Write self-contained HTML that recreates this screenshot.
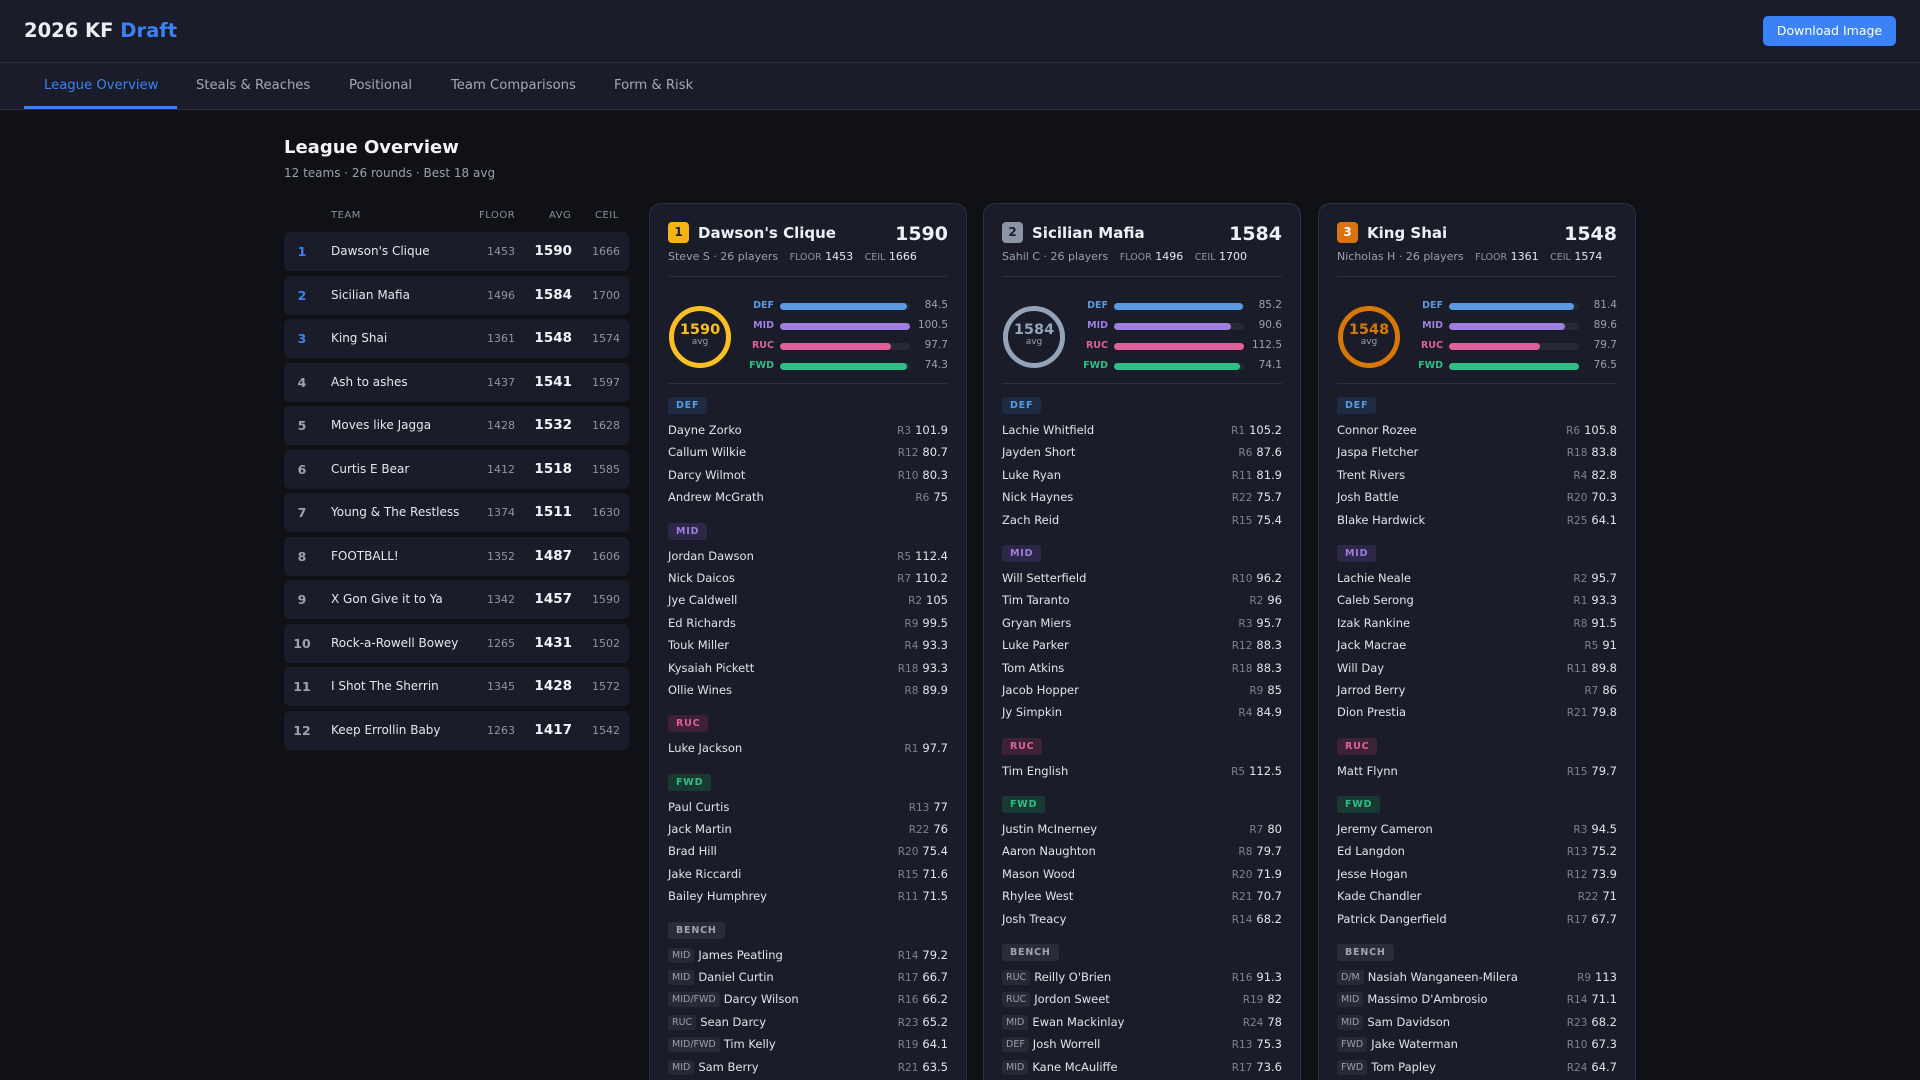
<!DOCTYPE html>
<html><head><meta charset="utf-8"><style>
*{box-sizing:border-box;margin:0;padding:0}
html,body{width:1920px;height:1080px;overflow:hidden}
body{background:#0f1117;font-family:"DejaVu Sans","Liberation Sans",sans-serif;color:#e5e7eb}
#wrap{position:relative;width:1920px;height:1080px;overflow:hidden}
.hdr{position:absolute;left:0;top:0;width:1920px;height:63px;background:#1a1d29;border-bottom:1px solid #2c303d}
.hdr h1{position:absolute;left:24px;top:19px;font-size:19.5px;font-weight:bold;color:#eceef2}
.hdr h1 span{color:#3b82f6}
.btn{position:absolute;left:1763px;top:16px;width:133px;height:30px;background:#3b82f6;border-radius:5px;color:#fff;font-size:12.5px;text-align:center;line-height:30px}
.nav{position:absolute;left:0;top:63px;width:1920px;height:47px;background:#1a1d29;border-bottom:1px solid #2c303d}
.nav div{position:absolute;top:15px;font-size:13.2px;color:#a3a8b3}
.nav .act{color:#3b82f6}
.uline{position:absolute;left:24px;top:106px;width:153px;height:3px;background:#3b82f6}
.ttl{position:absolute;left:284px;top:137px;font-size:18px;font-weight:bold;color:#f1f3f6}
.sub{position:absolute;left:284px;top:166px;font-size:12px;color:#9aa0ab}
.th{position:absolute;top:210px;font-size:10px;color:#8a909c;letter-spacing:.5px}
.row{position:absolute;left:284px;width:345px;height:39px;background:#1a1d29;border-radius:6px}
.row span{position:absolute;top:0;line-height:39px}
.rk{left:0;width:36px;text-align:center;font-weight:bold;font-size:12.5px;color:#9ca3af}
.rk.b{color:#3b82f6}
.nm{left:47px;font-size:12px;color:#e5e7eb}
.fl{right:114px;font-size:11px;color:#8e94a0}
.av{right:57px;font-size:13.5px;font-weight:bold;color:#f3f4f6}
.ce{right:9px;font-size:11px;color:#8e94a0}
.card{position:absolute;top:203px;width:318px;height:920px;background:#1a1d29;border:1px solid #2c303d;border-radius:12px}
.badge{position:absolute;left:18px;top:18px;width:21px;height:21px;border-radius:4px;font-size:12px;font-weight:bold;text-align:center;line-height:21px;color:#1a1d29}
.ct{position:absolute;left:48px;top:20px;font-size:15px;font-weight:bold;color:#eef0f3}
.cs{position:absolute;right:18px;top:19px;font-size:19px;font-weight:bold;color:#eef0f3}
.cl{position:absolute;left:18px;top:46px;font-size:11px;color:#9aa0ab;white-space:nowrap}
.cl small{font-size:9.5px;color:#8e94a0;margin-left:8px}
.cl b{font-weight:normal;color:#e5e7eb}
.dv{position:absolute;left:18px;right:18px;height:1px;background:#2c303d}
.ring{position:absolute;left:19px;top:102px;width:62px;height:62px;border-radius:50%;border:5px solid;text-align:center}
.ring .n{display:block;margin-top:11px;font-size:14.5px;font-weight:bold}
.ring .a{display:block;font-size:9px;color:#9aa0ab;margin-top:-1px}
.bl{position:absolute;width:124px;left:0;text-align:right;font-size:9.5px;font-weight:bold}
.bt{position:absolute;left:130px;width:130px;height:7px;border-radius:4px;background:#262a36}
.bt i{display:block;height:7px;border-radius:4px}
.bv{position:absolute;right:18px;font-size:10.5px;color:#9aa0ab}
.list{position:absolute;left:18px;right:18px;top:189px}
.tag{display:inline-block;height:17px;line-height:17px;padding:0 8px;border-radius:3px;font-size:9.5px;font-weight:bold;letter-spacing:.8px;margin:14px 0 5px}
.list .tag:first-child{margin-top:0}
.pr{height:22.4px;line-height:22.4px;font-size:11.5px;color:#e2e4e8;position:relative;white-space:nowrap}
.pr .r{position:absolute;right:0;top:0}
.pr .r small{font-size:10.5px;color:#7d838f;margin-right:4px}
.pt{display:inline-block;font-size:9.5px;color:#9aa0ab;background:#272a35;border-radius:3px;padding:0 4px;line-height:15px;margin-right:4px;vertical-align:1px}
.DEF{color:#5b9ae0}.MID{color:#a07ee0}.RUC{color:#e0609e}.FWD{color:#2fbf86}
.tDEF{background:#1f2b44;color:#5b9ae0}.tMID{background:#2d2848;color:#a07ee0}.tRUC{background:#3d2236;color:#e0609e}.tFWD{background:#183a33;color:#2fbf86}.tBEN{background:#2a2d38;color:#a0a4ae}
</style></head><body><div id="wrap">
<div class="hdr"><h1>2026 KF <span>Draft</span></h1><div class="btn">Download Image</div></div>
<div class="nav">
<div class="act" style="left:44px">League Overview</div>
<div style="left:196px">Steals &amp; Reaches</div>
<div style="left:349px">Positional</div>
<div style="left:451px">Team Comparisons</div>
<div style="left:614px">Form &amp; Risk</div>
</div>
<div class="uline"></div>
<div class="ttl">League Overview</div>
<div class="sub">12 teams · 26 rounds · Best 18 avg</div>
<div class="th" style="left:331px">TEAM</div>
<div class="th" style="left:479px">FLOOR</div>
<div class="th" style="left:549px">AVG</div>
<div class="th" style="left:595px">CEIL</div>

<div class="row" style="top:232px"><span class="rk b">1</span><span class="nm">Dawson's Clique</span><span class="fl">1453</span><span class="av">1590</span><span class="ce">1666</span></div>
<div class="row" style="top:275.5px"><span class="rk b">2</span><span class="nm">Sicilian Mafia</span><span class="fl">1496</span><span class="av">1584</span><span class="ce">1700</span></div>
<div class="row" style="top:319px"><span class="rk b">3</span><span class="nm">King Shai</span><span class="fl">1361</span><span class="av">1548</span><span class="ce">1574</span></div>
<div class="row" style="top:362.5px"><span class="rk">4</span><span class="nm">Ash to ashes</span><span class="fl">1437</span><span class="av">1541</span><span class="ce">1597</span></div>
<div class="row" style="top:406px"><span class="rk">5</span><span class="nm">Moves like Jagga</span><span class="fl">1428</span><span class="av">1532</span><span class="ce">1628</span></div>
<div class="row" style="top:449.5px"><span class="rk">6</span><span class="nm">Curtis E Bear</span><span class="fl">1412</span><span class="av">1518</span><span class="ce">1585</span></div>
<div class="row" style="top:493px"><span class="rk">7</span><span class="nm">Young &amp; The Restless</span><span class="fl">1374</span><span class="av">1511</span><span class="ce">1630</span></div>
<div class="row" style="top:536.5px"><span class="rk">8</span><span class="nm">FOOTBALL!</span><span class="fl">1352</span><span class="av">1487</span><span class="ce">1606</span></div>
<div class="row" style="top:580px"><span class="rk">9</span><span class="nm">X Gon Give it to Ya</span><span class="fl">1342</span><span class="av">1457</span><span class="ce">1590</span></div>
<div class="row" style="top:623.5px"><span class="rk">10</span><span class="nm">Rock-a-Rowell Bowey</span><span class="fl">1265</span><span class="av">1431</span><span class="ce">1502</span></div>
<div class="row" style="top:667px"><span class="rk">11</span><span class="nm">I Shot The Sherrin</span><span class="fl">1345</span><span class="av">1428</span><span class="ce">1572</span></div>
<div class="row" style="top:710.5px"><span class="rk">12</span><span class="nm">Keep Errollin Baby</span><span class="fl">1263</span><span class="av">1417</span><span class="ce">1542</span></div>

<div class="card" style="left:649px">
<div class="badge" style="background:#f5b316">1</div><div class="ct">Dawson's Clique</div><div class="cs">1590</div>
<div class="cl">Steve S · 26 players <small>FLOOR</small> <b>1453</b> <small>CEIL</small> <b>1666</b></div>
<div class="dv" style="top:72px"></div>
<div class="ring" style="border-color:#fbbf24"><span class="n" style="color:#fbbf24">1590</span><span class="a">avg</span></div>
<div class="bl DEF" style="top:96px">DEF</div><div class="bt" style="top:99px"><i style="width:98%;background:#5b9ae0"></i></div><div class="bv" style="top:95px">84.5</div>
<div class="bl MID" style="top:116px">MID</div><div class="bt" style="top:119px"><i style="width:100%;background:#a07ee0"></i></div><div class="bv" style="top:115px">100.5</div>
<div class="bl RUC" style="top:136px">RUC</div><div class="bt" style="top:139px"><i style="width:85%;background:#e0609e"></i></div><div class="bv" style="top:135px">97.7</div>
<div class="bl FWD" style="top:156px">FWD</div><div class="bt" style="top:159px"><i style="width:98%;background:#2fbf86"></i></div><div class="bv" style="top:155px">74.3</div>
<div class="dv" style="top:179px"></div>
<div class="list">
<div class="tag tDEF">DEF</div>
<div class="pr">Dayne Zorko<span class="r"><small>R3</small>101.9</span></div>
<div class="pr">Callum Wilkie<span class="r"><small>R12</small>80.7</span></div>
<div class="pr">Darcy Wilmot<span class="r"><small>R10</small>80.3</span></div>
<div class="pr">Andrew McGrath<span class="r"><small>R6</small>75</span></div>
<div class="tag tMID">MID</div>
<div class="pr">Jordan Dawson<span class="r"><small>R5</small>112.4</span></div>
<div class="pr">Nick Daicos<span class="r"><small>R7</small>110.2</span></div>
<div class="pr">Jye Caldwell<span class="r"><small>R2</small>105</span></div>
<div class="pr">Ed Richards<span class="r"><small>R9</small>99.5</span></div>
<div class="pr">Touk Miller<span class="r"><small>R4</small>93.3</span></div>
<div class="pr">Kysaiah Pickett<span class="r"><small>R18</small>93.3</span></div>
<div class="pr">Ollie Wines<span class="r"><small>R8</small>89.9</span></div>
<div class="tag tRUC">RUC</div>
<div class="pr">Luke Jackson<span class="r"><small>R1</small>97.7</span></div>
<div class="tag tFWD">FWD</div>
<div class="pr">Paul Curtis<span class="r"><small>R13</small>77</span></div>
<div class="pr">Jack Martin<span class="r"><small>R22</small>76</span></div>
<div class="pr">Brad Hill<span class="r"><small>R20</small>75.4</span></div>
<div class="pr">Jake Riccardi<span class="r"><small>R15</small>71.6</span></div>
<div class="pr">Bailey Humphrey<span class="r"><small>R11</small>71.5</span></div>
<div class="tag tBEN">BENCH</div>
<div class="pr"><span class="pt">MID</span>James Peatling<span class="r"><small>R14</small>79.2</span></div>
<div class="pr"><span class="pt">MID</span>Daniel Curtin<span class="r"><small>R17</small>66.7</span></div>
<div class="pr"><span class="pt">MID/FWD</span>Darcy Wilson<span class="r"><small>R16</small>66.2</span></div>
<div class="pr"><span class="pt">RUC</span>Sean Darcy<span class="r"><small>R23</small>65.2</span></div>
<div class="pr"><span class="pt">MID/FWD</span>Tim Kelly<span class="r"><small>R19</small>64.1</span></div>
<div class="pr"><span class="pt">MID</span>Sam Berry<span class="r"><small>R21</small>63.5</span></div>
</div>
</div>

<div class="card" style="left:983px">
<div class="badge" style="background:#8b95a5">2</div><div class="ct">Sicilian Mafia</div><div class="cs">1584</div>
<div class="cl">Sahil C · 26 players <small>FLOOR</small> <b>1496</b> <small>CEIL</small> <b>1700</b></div>
<div class="dv" style="top:72px"></div>
<div class="ring" style="border-color:#94a3b8"><span class="n" style="color:#94a3b8">1584</span><span class="a">avg</span></div>
<div class="bl DEF" style="top:96px">DEF</div><div class="bt" style="top:99px"><i style="width:99%;background:#5b9ae0"></i></div><div class="bv" style="top:95px">85.2</div>
<div class="bl MID" style="top:116px">MID</div><div class="bt" style="top:119px"><i style="width:90%;background:#a07ee0"></i></div><div class="bv" style="top:115px">90.6</div>
<div class="bl RUC" style="top:136px">RUC</div><div class="bt" style="top:139px"><i style="width:100%;background:#e0609e"></i></div><div class="bv" style="top:135px">112.5</div>
<div class="bl FWD" style="top:156px">FWD</div><div class="bt" style="top:159px"><i style="width:97%;background:#2fbf86"></i></div><div class="bv" style="top:155px">74.1</div>
<div class="dv" style="top:179px"></div>
<div class="list">
<div class="tag tDEF">DEF</div>
<div class="pr">Lachie Whitfield<span class="r"><small>R1</small>105.2</span></div>
<div class="pr">Jayden Short<span class="r"><small>R6</small>87.6</span></div>
<div class="pr">Luke Ryan<span class="r"><small>R11</small>81.9</span></div>
<div class="pr">Nick Haynes<span class="r"><small>R22</small>75.7</span></div>
<div class="pr">Zach Reid<span class="r"><small>R15</small>75.4</span></div>
<div class="tag tMID">MID</div>
<div class="pr">Will Setterfield<span class="r"><small>R10</small>96.2</span></div>
<div class="pr">Tim Taranto<span class="r"><small>R2</small>96</span></div>
<div class="pr">Gryan Miers<span class="r"><small>R3</small>95.7</span></div>
<div class="pr">Luke Parker<span class="r"><small>R12</small>88.3</span></div>
<div class="pr">Tom Atkins<span class="r"><small>R18</small>88.3</span></div>
<div class="pr">Jacob Hopper<span class="r"><small>R9</small>85</span></div>
<div class="pr">Jy Simpkin<span class="r"><small>R4</small>84.9</span></div>
<div class="tag tRUC">RUC</div>
<div class="pr">Tim English<span class="r"><small>R5</small>112.5</span></div>
<div class="tag tFWD">FWD</div>
<div class="pr">Justin McInerney<span class="r"><small>R7</small>80</span></div>
<div class="pr">Aaron Naughton<span class="r"><small>R8</small>79.7</span></div>
<div class="pr">Mason Wood<span class="r"><small>R20</small>71.9</span></div>
<div class="pr">Rhylee West<span class="r"><small>R21</small>70.7</span></div>
<div class="pr">Josh Treacy<span class="r"><small>R14</small>68.2</span></div>
<div class="tag tBEN">BENCH</div>
<div class="pr"><span class="pt">RUC</span>Reilly O'Brien<span class="r"><small>R16</small>91.3</span></div>
<div class="pr"><span class="pt">RUC</span>Jordon Sweet<span class="r"><small>R19</small>82</span></div>
<div class="pr"><span class="pt">MID</span>Ewan Mackinlay<span class="r"><small>R24</small>78</span></div>
<div class="pr"><span class="pt">DEF</span>Josh Worrell<span class="r"><small>R13</small>75.3</span></div>
<div class="pr"><span class="pt">MID</span>Kane McAuliffe<span class="r"><small>R17</small>73.6</span></div>
</div>
</div>

<div class="card" style="left:1318px">
<div class="badge" style="background:#d9730d;color:#fff">3</div><div class="ct">King Shai</div><div class="cs">1548</div>
<div class="cl">Nicholas H · 26 players <small>FLOOR</small> <b>1361</b> <small>CEIL</small> <b>1574</b></div>
<div class="dv" style="top:72px"></div>
<div class="ring" style="border-color:#d97706"><span class="n" style="color:#d97706">1548</span><span class="a">avg</span></div>
<div class="bl DEF" style="top:96px">DEF</div><div class="bt" style="top:99px"><i style="width:96%;background:#5b9ae0"></i></div><div class="bv" style="top:95px">81.4</div>
<div class="bl MID" style="top:116px">MID</div><div class="bt" style="top:119px"><i style="width:89%;background:#a07ee0"></i></div><div class="bv" style="top:115px">89.6</div>
<div class="bl RUC" style="top:136px">RUC</div><div class="bt" style="top:139px"><i style="width:70%;background:#e0609e"></i></div><div class="bv" style="top:135px">79.7</div>
<div class="bl FWD" style="top:156px">FWD</div><div class="bt" style="top:159px"><i style="width:100%;background:#2fbf86"></i></div><div class="bv" style="top:155px">76.5</div>
<div class="dv" style="top:179px"></div>
<div class="list">
<div class="tag tDEF">DEF</div>
<div class="pr">Connor Rozee<span class="r"><small>R6</small>105.8</span></div>
<div class="pr">Jaspa Fletcher<span class="r"><small>R18</small>83.8</span></div>
<div class="pr">Trent Rivers<span class="r"><small>R4</small>82.8</span></div>
<div class="pr">Josh Battle<span class="r"><small>R20</small>70.3</span></div>
<div class="pr">Blake Hardwick<span class="r"><small>R25</small>64.1</span></div>
<div class="tag tMID">MID</div>
<div class="pr">Lachie Neale<span class="r"><small>R2</small>95.7</span></div>
<div class="pr">Caleb Serong<span class="r"><small>R1</small>93.3</span></div>
<div class="pr">Izak Rankine<span class="r"><small>R8</small>91.5</span></div>
<div class="pr">Jack Macrae<span class="r"><small>R5</small>91</span></div>
<div class="pr">Will Day<span class="r"><small>R11</small>89.8</span></div>
<div class="pr">Jarrod Berry<span class="r"><small>R7</small>86</span></div>
<div class="pr">Dion Prestia<span class="r"><small>R21</small>79.8</span></div>
<div class="tag tRUC">RUC</div>
<div class="pr">Matt Flynn<span class="r"><small>R15</small>79.7</span></div>
<div class="tag tFWD">FWD</div>
<div class="pr">Jeremy Cameron<span class="r"><small>R3</small>94.5</span></div>
<div class="pr">Ed Langdon<span class="r"><small>R13</small>75.2</span></div>
<div class="pr">Jesse Hogan<span class="r"><small>R12</small>73.9</span></div>
<div class="pr">Kade Chandler<span class="r"><small>R22</small>71</span></div>
<div class="pr">Patrick Dangerfield<span class="r"><small>R17</small>67.7</span></div>
<div class="tag tBEN">BENCH</div>
<div class="pr"><span class="pt">D/M</span>Nasiah Wanganeen-Milera<span class="r"><small>R9</small>113</span></div>
<div class="pr"><span class="pt">MID</span>Massimo D'Ambrosio<span class="r"><small>R14</small>71.1</span></div>
<div class="pr"><span class="pt">MID</span>Sam Davidson<span class="r"><small>R23</small>68.2</span></div>
<div class="pr"><span class="pt">FWD</span>Jake Waterman<span class="r"><small>R10</small>67.3</span></div>
<div class="pr"><span class="pt">FWD</span>Tom Papley<span class="r"><small>R24</small>64.7</span></div>
</div>
</div>
</div></body></html>
